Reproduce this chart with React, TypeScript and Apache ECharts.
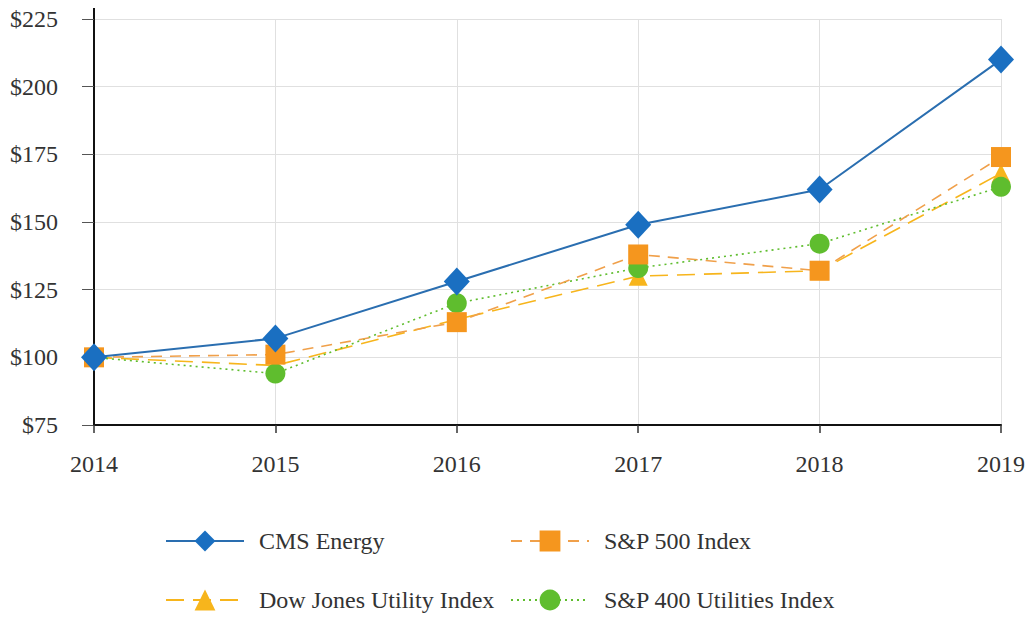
import React, { useEffect, useRef } from "react";
import * as echarts from "echarts";

const years = ["2014", "2015", "2016", "2017", "2018", "2019"];
const cmsEnergy = [100, 107, 128, 149, 162, 210];
const sp500 = [100, 101, 113, 138, 132, 174];
const dowJonesUtility = [100, 97, 114, 130, 132, 168];
const sp400Utilities = [100, 94, 120, 133, 142, 163];
const yTicks = [75, 100, 125, 150, 175, 200, 225];

const FONT = "Liberation Serif";

export default function App() {
  const ref = useRef<HTMLDivElement>(null);
  useEffect(() => {
    const chart = echarts.init(ref.current!, undefined, { renderer: "svg" });
    const legendBase = {
      orient: "horizontal" as const,
      itemWidth: 78,
      itemHeight: 26,
      itemGap: 14,
      textStyle: { fontFamily: FONT, fontSize: 24, color: "#333", padding: [0, 0, 0, 10] },
      selectedMode: false,
    };
    chart.setOption({
      animation: false,
      backgroundColor: "#fff",
      grid: { left: 94, right: 28, top: 19, bottom: 193 },
      xAxis: {
        type: "category",
        data: years,
        boundaryGap: false,
        axisLine: { lineStyle: { color: "#111", width: 2 } },
        axisTick: { show: true, alignWithLabel: true, length: 8, lineStyle: { color: "#333", width: 1.5 } },
        axisLabel: { fontFamily: FONT, fontSize: 24, color: "#333", margin: 27 },
        splitLine: { show: true, lineStyle: { color: "#e0e0e0", width: 1 } },
      },
      yAxis: {
        type: "value",
        min: 75,
        max: 225,
        interval: 25,
        axisLine: { show: true, lineStyle: { color: "#111", width: 2 } },
        axisTick: { show: true, length: 12, lineStyle: { color: "#555", width: 1 } },
        axisLabel: {
          fontFamily: FONT,
          fontSize: 24,
          color: "#333",
          margin: 36,
          formatter: (v: number) => (yTicks.includes(v) ? "$" + v : ""),
        },
        splitLine: { show: true, lineStyle: { color: "#e0e0e0", width: 1 } },
      },
      legend: [
        { ...legendBase, left: 160, top: 524, data: ["CMS Energy"] },
        { ...legendBase, left: 505, top: 524, data: ["S&P 500 Index"] },
        { ...legendBase, left: 160, top: 583, data: ["Dow Jones Utility Index"] },
        { ...legendBase, left: 505, top: 583, data: ["S&P 400 Utilities Index"] },
      ],
      graphic: [
        {
          type: "line",
          shape: { x1: 94, y1: 8, x2: 94, y2: 20 },
          style: { stroke: "#111", lineWidth: 2 },
        },
      ],
      series: [
        {
          name: "Dow Jones Utility Index",
          type: "line",
          data: dowJonesUtility,
          symbol: "triangle",
          symbolSize: 19,
          itemStyle: { color: "#f7b51c" },
          lineStyle: { color: "#f7b51c", width: 1.6, type: [18, 9] },
          z: 2,
        },
        {
          name: "S&P 400 Utilities Index",
          type: "line",
          data: sp400Utilities,
          symbol: "circle",
          symbolSize: 20,
          itemStyle: { color: "#5fbd2e" },
          lineStyle: { color: "#5fbd2e", width: 1.6, type: [2, 4] },
          z: 3,
        },
        {
          name: "S&P 500 Index",
          type: "line",
          data: sp500,
          symbol: "rect",
          symbolSize: 20,
          itemStyle: { color: "#f5961e" },
          lineStyle: { color: "#f0a04a", width: 1.6, type: [11, 8] },
          z: 4,
        },
        {
          name: "CMS Energy",
          type: "line",
          data: cmsEnergy,
          symbol: "diamond",
          symbolSize: [26, 28],
          itemStyle: { color: "#1a6fc1" },
          lineStyle: { color: "#2a6eb0", width: 2 },
          z: 5,
        },
      ],
    });
    return () => chart.dispose();
  }, []);
  return <div ref={ref} style={{ width: 1029, height: 618, position: "absolute", left: 0, top: 0 }} />;
}
